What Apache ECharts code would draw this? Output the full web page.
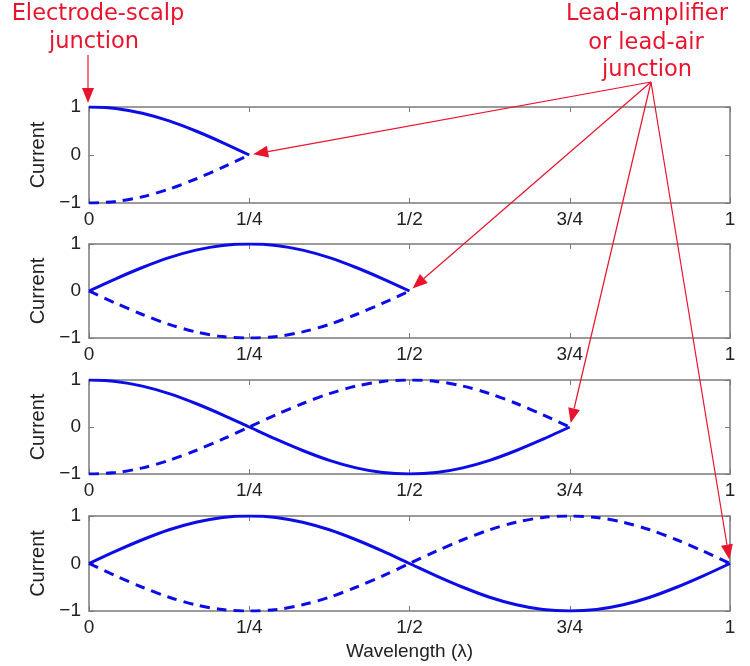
<!DOCTYPE html>
<html>
<head>
<meta charset="UTF-8">
<title></title>
<script src="https://cdn.jsdelivr.net/npm/echarts@6/dist/echarts.min.js"></script>
<style>
* { margin: 0; padding: 0; }
#app { width: 750px; height: 666px; background: #fff; }
</style>
</head>
<body>
<div id="app"></div>
<script>
// sample positions along the wavelength (step 1/24)
var xs = [0, 0.0417, 0.0833, 0.125, 0.1667, 0.2083, 0.25, 0.2917, 0.3333, 0.375, 0.4167, 0.4583, 0.5,
  0.5417, 0.5833, 0.625, 0.6667, 0.7083, 0.75, 0.7917, 0.8333, 0.875, 0.9167, 0.9583, 1];

// current (solid / dashed)
var solid1 = [1, 0.97, 0.87, 0.71, 0.5, 0.26, 0];
var dashed1 = [-1, -0.97, -0.87, -0.71, -0.5, -0.26, 0];
var solid2 = [0, 0.26, 0.5, 0.71, 0.87, 0.97, 1, 0.97, 0.87, 0.71, 0.5, 0.26, 0];
var dashed2 = [0, -0.26, -0.5, -0.71, -0.87, -0.97, -1, -0.97, -0.87, -0.71, -0.5, -0.26, 0];
var solid3 = [1, 0.97, 0.87, 0.71, 0.5, 0.26, 0, -0.26, -0.5, -0.71, -0.87, -0.97, -1,
  -0.97, -0.87, -0.71, -0.5, -0.26, 0];
var dashed3 = [-1, -0.97, -0.87, -0.71, -0.5, -0.26, 0, 0.26, 0.5, 0.71, 0.87, 0.97, 1,
  0.97, 0.87, 0.71, 0.5, 0.26, 0];
var solid4 = [0, 0.26, 0.5, 0.71, 0.87, 0.97, 1, 0.97, 0.87, 0.71, 0.5, 0.26, 0,
  -0.26, -0.5, -0.71, -0.87, -0.97, -1, -0.97, -0.87, -0.71, -0.5, -0.26, 0];
var dashed4 = [0, -0.26, -0.5, -0.71, -0.87, -0.97, -1, -0.97, -0.87, -0.71, -0.5, -0.26, 0,
  0.26, 0.5, 0.71, 0.87, 0.97, 1, 0.97, 0.87, 0.71, 0.5, 0.26, 0];

var xTickLabels = ['0', '1/4', '1/2', '3/4', '1'];
var yTickLabels = ['\u22121', '0', '1'];
var arrowTargets = [0.25, 0.5, 0.75, 1]; // ends of the lead in each panel

var panels = [[solid1, dashed1], [solid2, dashed2], [solid3, dashed3], [solid4, dashed4]];
var gridTops = [107, 244, 380, 516];
var gridHeights = [96, 94, 94, 95];

var blue = '#0c0ce6';
var boxColor = '#7a7a7a';
var red = '#e8142e';
var font = 'Liberation Sans';

var myChart = echarts.init(document.getElementById('app'));

function pairs(vals) {
  return vals.map(function (v, i) { return [xs[i], v]; });
}

var grids = [], xAxes = [], yAxes = [], series = [];
for (var i = 0; i < 4; i++) {
  grids.push({ left: 89, right: 20, top: gridTops[i], height: gridHeights[i] });
  var lastPanel = i === 3;
  ['bottom', 'top'].forEach(function (pos) {
    xAxes.push({
      type: 'value', gridIndex: i, position: pos, min: 0, max: 1, interval: 0.25,
      name: (pos === 'bottom' && lastPanel) ? 'Wavelength (\u03bb)' : '',
      nameLocation: 'middle', nameGap: 31,
      nameTextStyle: { color: '#222', fontSize: 19, fontFamily: font },
      axisLine: { show: true, onZero: false, lineStyle: { color: boxColor, width: 1.5 } },
      axisTick: { show: true, inside: true, length: 5, lineStyle: { color: boxColor } },
      axisLabel: {
        show: pos === 'bottom', margin: 7, color: '#222', fontSize: 19, fontFamily: font,
        formatter: function (v) { return xTickLabels[Math.round(v * 4)]; }
      },
      splitLine: { show: false }
    });
  });
  ['left', 'right'].forEach(function (pos) {
    yAxes.push({
      type: 'value', gridIndex: i, position: pos, min: -1, max: 1, interval: 1,
      name: pos === 'left' ? 'Current' : '',
      nameLocation: 'middle', nameGap: 36, nameRotate: 90,
      nameTextStyle: { color: '#222', fontSize: 20, fontFamily: font },
      axisLine: { show: true, onZero: false, lineStyle: { color: boxColor, width: 1.5 } },
      axisTick: { show: true, inside: true, length: 5, lineStyle: { color: boxColor } },
      axisLabel: {
        show: pos === 'left', margin: 8, color: '#222', fontSize: 19, fontFamily: font,
        formatter: function (v) { return yTickLabels[Math.round(v) + 1]; }
      },
      splitLine: { show: false }
    });
  });
  series.push({
    type: 'line', xAxisIndex: i * 2, yAxisIndex: i * 2, data: pairs(panels[i][0]),
    showSymbol: false, smooth: 0.3, lineStyle: { color: blue, width: 3 }, z: 3
  });
  series.push({
    type: 'line', xAxisIndex: i * 2, yAxisIndex: i * 2, data: pairs(panels[i][1]),
    showSymbol: false, smooth: 0.3, lineStyle: { color: blue, width: 3, type: [10, 7] }, z: 3
  });
}

var option = {
  animation: false,
  backgroundColor: '#fff',
  grid: grids,
  xAxis: xAxes,
  yAxis: yAxes,
  series: series
};
myChart.setOption(option);

// arrows and red annotation text
function arrow(x1, y1, x2, y2) {
  var ang = Math.atan2(y2 - y1, x2 - x1);
  var len = 15, half = 6;
  var bx = x2 - len * Math.cos(ang), by = y2 - len * Math.sin(ang);
  var px = -Math.sin(ang) * half, py = Math.cos(ang) * half;
  return [
    { type: 'line', shape: { x1: x1, y1: y1, x2: bx, y2: by }, style: { stroke: red, lineWidth: 1.2 }, z: 10 },
    { type: 'polygon', shape: { points: [[x2, y2], [bx + px, by + py], [bx - px, by - py]] },
      style: { fill: red }, z: 10 }
  ];
}

var graphics = [];
function label(text, x, y) {
  graphics.push({
    type: 'text', x: x, y: y, z: 10,
    style: { text: text, fill: red, font: '22.5px "DejaVu Sans"', textAlign: 'center', textVerticalAlign: 'middle' }
  });
}
label('Electrode-scalp', 98, 14);
label('junction', 94, 42);
label('Lead-amplifier', 647, 14);
label('or lead-air', 646, 43);
label('junction', 647, 70);

var top0 = myChart.convertToPixel({ gridIndex: 0 }, [0, 1]);
graphics = graphics.concat(arrow(top0[0] - 1, 55, top0[0] - 1, top0[1] - 4));

var src = [651, 82];
for (var k = 0; k < 4; k++) {
  var p = myChart.convertToPixel({ gridIndex: k }, [arrowTargets[k], 0]);
  var dx = src[0] - p[0], dy = src[1] - p[1];
  var d = Math.sqrt(dx * dx + dy * dy);
  graphics = graphics.concat(arrow(src[0], src[1], p[0] + dx / d * 4, p[1] + dy / d * 4));
}
myChart.setOption({ graphic: graphics });
</script>
</body>
</html>
